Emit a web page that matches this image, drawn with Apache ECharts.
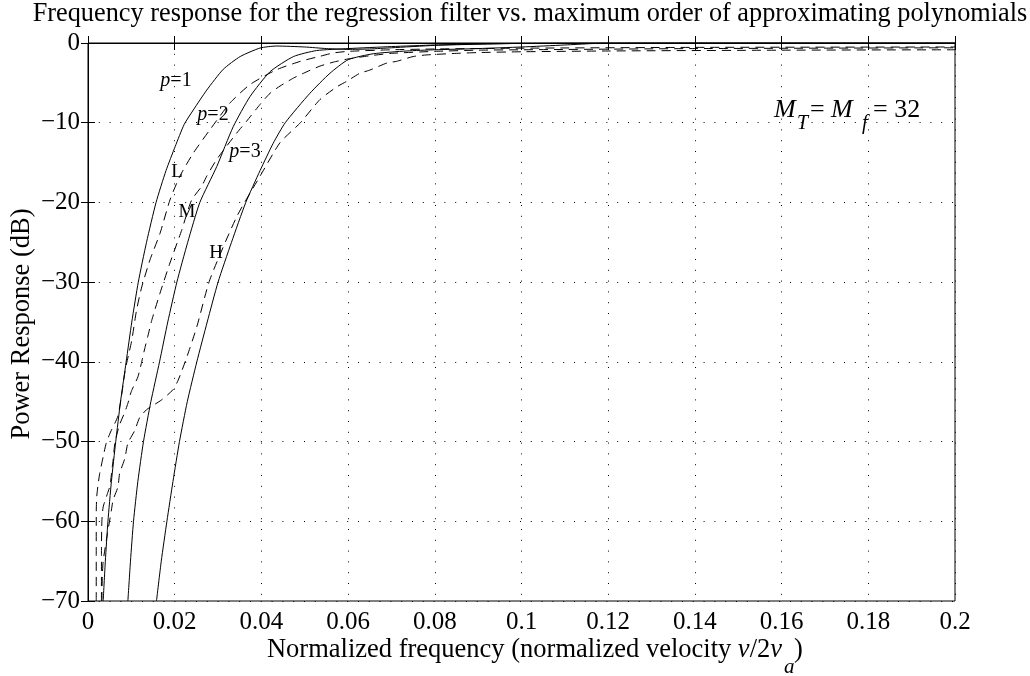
<!DOCTYPE html>
<html><head><meta charset="utf-8">
<script src="https://cdn.jsdelivr.net/npm/echarts@6/dist/echarts.min.js"></script>
<style>html,body{margin:0;padding:0;background:#fff}#c{width:1030px;height:676px}</style>
</head><body><div id="c"></div>
<script>
// ---- tick labels ----
const xTickLabels = ['0','0.02','0.04','0.06','0.08','0.1','0.12','0.14','0.16','0.18','0.2'];
const yTickLabels = ['\u221270','\u221260','\u221250','\u221240','\u221230','\u221220','\u221210','0'];

// ---- solid curves (p = 1, 2, 3) : [normalized frequency, dB] ----
const p1 = [[0.0035,-70],[0.0040,-65],[0.0046,-60],[0.0054,-55],[0.0064,-50],[0.0075,-45],[0.0088,-40],[0.0101,-35],[0.0116,-30],[0.0135,-25],[0.0157,-20],[0.0180,-16],[0.0201,-13],[0.0222,-10.2],[0.0243,-8.4],[0.0274,-5.9],[0.0312,-3.3],[0.0351,-1.7],[0.0397,-0.63],[0.0435,-0.38],[0.0500,-0.5],[0.0550,-0.7],[0.0600,-0.8],[0.0650,-0.75],[0.0700,-0.6],[0.0800,-0.3],[0.0900,-0.15],[0.1000,-0.05],[0.1200,0],[0.2000,0]];
const p2 = [[0.0092,-70],[0.0098,-65],[0.0105,-60],[0.0115,-55],[0.0128,-50],[0.0145,-45],[0.0165,-40],[0.0184,-35],[0.0205,-30],[0.0230,-25],[0.0258,-20],[0.0297,-15.5],[0.0335,-10.5],[0.0374,-6.7],[0.0420,-3.6],[0.0474,-1.7],[0.0527,-0.95],[0.0600,-0.7],[0.0700,-0.45],[0.0800,-0.25],[0.0900,-0.12],[0.1000,-0.05],[0.1200,0],[0.2000,0]];
const p3 = [[0.0158,-70],[0.0169,-65],[0.0182,-60],[0.0196,-55],[0.0211,-50],[0.0229,-45],[0.0251,-40],[0.0275,-35],[0.0300,-30],[0.0331,-25],[0.0364,-20],[0.0397,-16],[0.0427,-12.6],[0.0455,-10],[0.0512,-6.3],[0.0558,-3.8],[0.0600,-2.1],[0.0658,-1.35],[0.0735,-1.0],[0.0800,-0.85],[0.0900,-0.7],[0.1000,-0.5],[0.1100,-0.25],[0.1160,-0.08],[0.1200,-0.02],[0.1400,0],[0.2000,0]];

// ---- dashed curves (L, M, H) ----
const dL = [[0.0019,-70],[0.0019,-64],[0.0019,-59],[0.0020,-57],[0.0023,-55.5],[0.0027,-54],[0.0035,-51.9],[0.0042,-50.2],[0.0052,-48.8],[0.0062,-47.7],[0.0069,-46.8],[0.0077,-44.4],[0.0086,-41],[0.0094,-39],[0.0101,-37.3],[0.0112,-33.5],[0.0124,-30.6],[0.0143,-27.2],[0.0166,-23.9],[0.0189,-19.7],[0.0212,-16.7],[0.0243,-13.8],[0.0281,-10.9],[0.0328,-7.5],[0.0374,-5.2],[0.0435,-3.35],[0.0490,-2.3],[0.0535,-1.67],[0.0566,-1.25],[0.0600,-1.05],[0.0700,-0.85],[0.0800,-0.75],[0.1000,-0.65],[0.1400,-0.55],[0.2000,-0.5]];
const dM = [[0.0031,-70],[0.0031,-64],[0.0032,-60],[0.0035,-58.2],[0.0045,-56.5],[0.0051,-55.5],[0.0055,-53.6],[0.0058,-52.3],[0.0062,-50.2],[0.0072,-48],[0.0085,-46.3],[0.0092,-45.2],[0.0100,-43.7],[0.0115,-41.9],[0.0123,-40.2],[0.0131,-38.3],[0.0138,-36.8],[0.0147,-34.8],[0.0166,-31.4],[0.0189,-27.6],[0.0216,-23.5],[0.0239,-19.7],[0.0262,-18],[0.0274,-16.7],[0.0297,-14.6],[0.0343,-11.3],[0.0366,-9.8],[0.0397,-7.7],[0.0420,-6.3],[0.0443,-5.4],[0.0474,-4.4],[0.0505,-3.6],[0.0535,-2.9],[0.0566,-2.4],[0.0600,-2.0],[0.0650,-1.6],[0.0700,-1.3],[0.0800,-1.05],[0.0900,-0.9],[0.1000,-0.85],[0.1400,-0.7],[0.2000,-0.6]];
const dH = [[0.0032,-70],[0.0033,-67],[0.0035,-65],[0.0045,-61.5],[0.0054,-58.6],[0.0058,-57.3],[0.0069,-55.7],[0.0073,-54],[0.0085,-52.1],[0.0092,-50.2],[0.0108,-48.6],[0.0119,-47],[0.0135,-46],[0.0146,-45.6],[0.0169,-44.8],[0.0196,-43.5],[0.0208,-42.3],[0.0228,-39.4],[0.0251,-35.6],[0.0281,-29.7],[0.0343,-21.8],[0.0397,-16.7],[0.0443,-12.5],[0.0490,-10],[0.0535,-7.1],[0.0574,-5.5],[0.0597,-4.8],[0.0627,-3.8],[0.0650,-3.4],[0.0690,-2.5],[0.0712,-2.3],[0.0750,-1.7],[0.0780,-1.5],[0.0850,-1.3],[0.0900,-1.2],[0.1000,-1.1],[0.1200,-1.0],[0.1600,-0.9],[0.2000,-0.85]];

const SERIF = "'Liberation Serif','Times New Roman',serif";
const chart = echarts.init(document.getElementById('c'), null, {renderer:'canvas'});

function lineSeries(data, dashed){
  return {type:'line', data, showSymbol:false, smooth:0.2, clip:true, animation:false,
    lineStyle:{color:'#000', width:1, type: dashed ? [9,6] : 'solid'}, silent:true};
}
const gridDots = {show:true, lineStyle:{color:'#000', width:1, type:[1,9.8]}};
const ital = {fontStyle:'italic', fontFamily:SERIF};
function txt(x, y, text, size, extra){
  return {type:'text', x, y, style:Object.assign({text, fontFamily:SERIF, fontSize:size, fill:'#000', align:'left', verticalAlign:'middle'}, extra||{})};
}
function pLabel(x, y, n){
  return {type:'text', x, y, style:{text:'{i|p}=' + n, rich:{i:Object.assign({fontSize:20, fill:'#000'}, ital)},
    fontFamily:SERIF, fontSize:20, fill:'#000', align:'center', verticalAlign:'middle'}};
}

chart.setOption({
  backgroundColor:'#fff',
  animation:false,
  grid:{left:88, right:75, top:43, bottom:75, show:true, borderColor:'#000', borderWidth:1, backgroundColor:'transparent'},
  xAxis:[
    {type:'value', min:0, max:0.2, interval:0.02, position:'bottom',
     axisLine:{show:true, lineStyle:{color:'#000'}},
     axisTick:{show:true, inside:true, length:7, lineStyle:{color:'#000'}},
     axisLabel:{color:'#000', fontFamily:SERIF, fontSize:25, margin:9,
       formatter:v=>xTickLabels[Math.round(v/0.02)]},
     splitLine:gridDots},
    {type:'value', min:0, max:0.2, interval:0.02, position:'top',
     axisLine:{show:true, lineStyle:{color:'#000'}},
     axisTick:{show:true, inside:true, length:7, lineStyle:{color:'#000'}},
     axisLabel:{show:false}, splitLine:{show:false}}
  ],
  yAxis:[
    {type:'value', min:-70, max:0, interval:10, position:'left',
     axisLine:{show:true, lineStyle:{color:'#000'}},
     axisTick:{show:true, inside:true, length:7, lineStyle:{color:'#000'}},
     axisLabel:{color:'#000', fontFamily:SERIF, fontSize:25, margin:8,
       formatter:v=>yTickLabels[Math.round((v+70)/10)]},
     splitLine:gridDots},
    {type:'value', min:-70, max:0, interval:10, position:'right',
     axisLine:{show:true, lineStyle:{color:'#000'}},
     axisTick:{show:true, inside:true, length:7, lineStyle:{color:'#000'}},
     axisLabel:{show:false}, splitLine:{show:false}}
  ],
  series:[
    lineSeries(p1,false), lineSeries(p2,false), lineSeries(p3,false),
    lineSeries(dL,true), lineSeries(dM,true), lineSeries(dH,true)
  ],
  graphic:[
    txt(530, 14, 'Frequency response for the regression filter vs. maximum order of approximating polynomials', 26.3, {align:'center'}),
    {type:'text', x:22, y:324, rotation:Math.PI/2, style:{text:'Power Response (dB)',
      fontFamily:SERIF, fontSize:26.5, fill:'#000', align:'center', verticalAlign:'middle'}},
    {type:'text', x:782, y:650, style:{text:'{n|Normalized frequency (normalized velocity }{i|v}{n|/2}{i|v}',
      rich:{n:{fontFamily:SERIF, fontSize:26.5, fill:'#000'}, i:Object.assign({fontSize:26.5, fill:'#000'}, ital)},
      fontFamily:SERIF, fontSize:26.5, fill:'#000', align:'right', verticalAlign:'middle'}},
    txt(784, 667, 'a', 21, {fontStyle:'italic'}),
    txt(794, 650, ')', 26.5),
    // curve annotations
    pLabel(176, 81, 1), pLabel(213, 115, 2), pLabel(245, 152, 3),
    txt(177, 172, 'L', 19, {align:'center'}),
    txt(187, 212, 'M', 19, {align:'center'}),
    txt(216, 253, 'H', 19, {align:'center'}),
    // M_T = M_f = 32
    txt(774, 110, 'M', 26, {fontStyle:'italic'}),
    txt(797, 124, 'T', 20, {fontStyle:'italic'}),
    txt(810, 110, '=', 26),
    txt(831, 110, 'M', 26, {fontStyle:'italic'}),
    txt(862, 124, 'f', 20, {fontStyle:'italic'}),
    txt(873, 110, '= 32', 26)
  ]
});
</script></body></html>
